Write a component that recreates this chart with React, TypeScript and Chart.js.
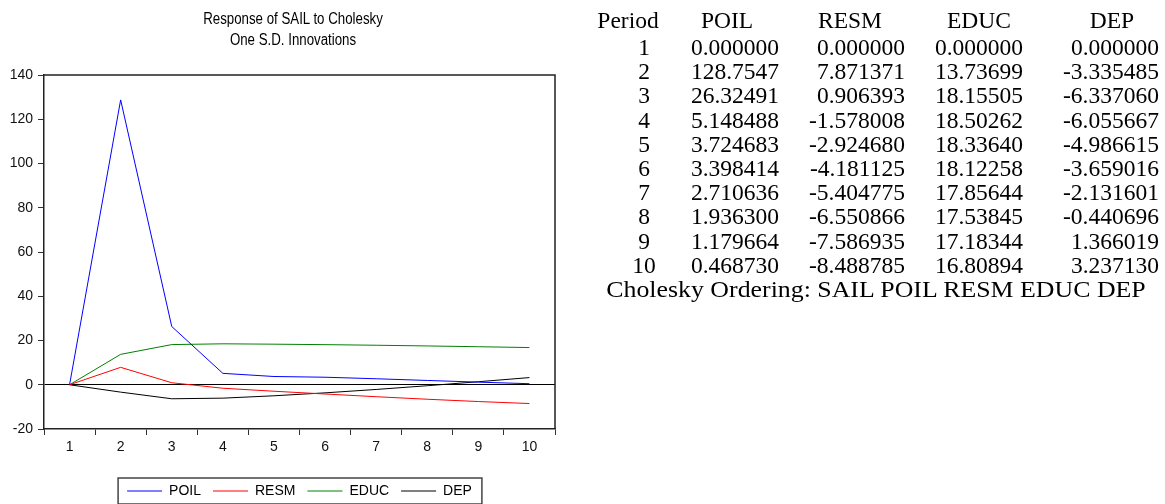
import React, { useEffect, useRef } from 'react';
import { Chart, registerables } from 'chart.js';

Chart.register(...registerables);

// ---------------- data ----------------
const periods = ['1', '2', '3', '4', '5', '6', '7', '8', '9', '10'];
const poil = [0.0, 128.7547, 26.32491, 5.148488, 3.724683, 3.398414, 2.710636, 1.9363, 1.179664, 0.46873];
const resm = [0.0, 7.871371, 0.906393, -1.578008, -2.92468, -4.181125, -5.404775, -6.550866, -7.586935, -8.488785];
const educ = [0.0, 13.73699, 18.15505, 18.50262, 18.3364, 18.12258, 17.85644, 17.53845, 17.18344, 16.80894];
const dep = [0.0, -3.335485, -6.33706, -6.055667, -4.986615, -3.659016, -2.131601, -0.440696, 1.366019, 3.23713];
const seriesNames = ['POIL', 'RESM', 'EDUC', 'DEP'];
const seriesValues = [poil, resm, educ, dep];
const seriesColors = ['#0000FF', '#FF0000', '#008000', '#000000'];
const yMin = -20;
const yMax = 140;
const yStep = 20;
const titleLines = ['Response of SAIL to Cholesky', 'One S.D. Innovations'];
const tableHeader = ['Period', 'POIL', 'RESM', 'EDUC', 'DEP'];
const footnote = 'Cholesky Ordering: SAIL POIL RESM EDUC DEP';

function fmt(v: number): string {
  const a = Math.abs(v);
  const intDigits = a < 1 ? 1 : Math.floor(Math.log10(a)) + 1;
  return v.toFixed(Math.max(0, 7 - intDigits));
}

const SANS = 'Liberation Sans, Arial, Helvetica, sans-serif';
const SERIF = '"Liberation Serif", "Times New Roman", Times, serif';

const framePlugin = {
  id: 'frameAndLegendBox',
  afterDraw(chart: any) {
    const { ctx, chartArea } = chart;
    ctx.save();
    ctx.strokeStyle = '#222';
    ctx.lineWidth = 1.5;
    ctx.beginPath();
    ctx.moveTo(chartArea.left, chartArea.top);
    ctx.lineTo(chartArea.right, chartArea.top);
    ctx.lineTo(chartArea.right, chartArea.bottom);
    ctx.stroke();
    const lg = chart.legend;
    if (lg && lg.legendHitBoxes && lg.legendHitBoxes.length) {
      const hb = lg.legendHitBoxes;
      const first = hb[0];
      const last = hb[hb.length - 1];
      const x0 = first.left - 9;
      const x1 = last.left + last.width + 10;
      const y0 = first.top - 6;
      const y1 = first.top + first.height + 6;
      ctx.strokeStyle = '#444';
      ctx.lineWidth = 1.5;
      ctx.strokeRect(x0, y0, x1 - x0, y1 - y0);
    }
    ctx.restore();
  },
};

function ChartPanel() {
  const ref = useRef<HTMLCanvasElement | null>(null);
  useEffect(() => {
    if (!ref.current) return;
    const chart = new Chart(ref.current, {
      type: 'line',
      data: {
        labels: periods,
        datasets: seriesNames.map((name, i) => ({
          label: name,
          data: seriesValues[i],
          borderColor: seriesColors[i],
          backgroundColor: seriesColors[i],
          borderWidth: 1,
          pointRadius: 0,
          tension: 0,
          fill: false,
        })),
      },
      options: {
        animation: false,
        responsive: false,
        devicePixelRatio: 1,
        layout: { padding: { left: 0, right: 5, top: 75, bottom: 0 } },
        plugins: {
          title: { display: false },
          legend: {
            display: true,
            position: 'bottom',
            fullSize: false,
            labels: {
              usePointStyle: true,
              pointStyle: 'line',
              pointStyleWidth: 35,
              padding: 12,
              color: '#000',
              font: { family: SANS, size: 14 },
            },
          },
          tooltip: { enabled: false },
        },
        scales: {
          x: {
            type: 'category',
            offset: true,
            grid: {
              offset: true,
              drawOnChartArea: false,
              drawTicks: true,
              tickLength: 6,
              tickColor: '#333',
            },
            border: { display: true, color: '#222', width: 1.5 },
            ticks: {
              color: '#111',
              font: { family: SANS, size: 14 },
              padding: 4,
              maxRotation: 0,
              autoSkip: false,
            },
            afterFit: (s: any) => {
              s.height = 43;
            },
          },
          y: {
            min: yMin,
            max: yMax,
            grid: {
              drawOnChartArea: true,
              drawTicks: true,
              tickLength: 6,
              tickColor: '#333',
              color: (c: any) => (c.tick && c.tick.value === 0 ? '#000' : 'rgba(0,0,0,0)'),
            },
            border: { display: true, color: '#222', width: 1.5 },
            ticks: {
              stepSize: yStep,
              color: '#111',
              font: { family: SANS, size: 14 },
              padding: 5,
            },
            afterFit: (s: any) => {
              s.width = 44;
            },
          },
        },
      },
      plugins: [framePlugin],
    } as any);
    return () => chart.destroy();
  }, []);
  return (
    <canvas
      ref={ref}
      width={560}
      height={508}
      style={{ position: 'absolute', left: 0, top: 0, width: 560, height: 508 }}
    />
  );
}

function ChartTitle() {
  return (
    <>
      {titleLines.map((t, i) => (
        <div
          key={'t' + i}
          style={{
            position: 'absolute',
            left: 293 - 200,
            width: 400,
            top: 7.5 + i * 21,
            height: 21,
            lineHeight: '21px',
            textAlign: 'center',
            fontFamily: SANS,
            fontSize: 16,
            whiteSpace: 'nowrap',
            transform: 'scaleX(0.83)',
            transformOrigin: '50% 50%',
          }}
        >
          {t}
        </div>
      ))}
    </>
  );
}

// table geometry
const rowTop0 = 20; // header centre
const rowFirst = 47; // row 1 centre
const rowStep = 24.2;
const lineH = 24;
const periodCenter = 644;
const headerCenters = [628, 727, 850, 979, 1112];
const valueRights = [779, 905, 1023, 1159];
const footCenter = 876;

function cellStyle(centerY: number): React.CSSProperties {
  return {
    position: 'absolute',
    top: centerY - lineH / 2,
    height: lineH,
    lineHeight: lineH + 'px',
    whiteSpace: 'nowrap',
  };
}

function Table() {
  const cells: React.ReactNode[] = [];
  tableHeader.forEach((h, i) => {
    cells.push(
      <div key={'h' + i} style={{ ...cellStyle(rowTop0), left: headerCenters[i] - 100, width: 200, textAlign: 'center' }}>
        {h}
      </div>
    );
  });
  periods.forEach((p, r) => {
    const cy = rowFirst + r * rowStep;
    cells.push(
      <div key={'p' + r} style={{ ...cellStyle(cy), left: periodCenter - 50, width: 100, textAlign: 'center' }}>
        {p}
      </div>
    );
    seriesValues.forEach((vals, c) => {
      cells.push(
        <div key={'v' + r + '_' + c} style={{ ...cellStyle(cy), left: valueRights[c] - 200, width: 200, textAlign: 'right' }}>
          {fmt(vals[r])}
        </div>
      );
    });
  });
  const footY = rowFirst + periods.length * rowStep;
  cells.push(
    <div
      key="foot"
      style={{
        ...cellStyle(footY),
        left: footCenter - 300,
        width: 600,
        textAlign: 'center',
        transform: 'scaleX(1.1)',
        transformOrigin: '50% 50%',
      }}
    >
      {footnote}
    </div>
  );
  return <>{cells}</>;
}

export default function App() {
  return (
    <div
      style={{
        position: 'fixed',
        left: 0,
        top: 0,
        width: 1165,
        height: 504,
        overflow: 'hidden',
        background: '#fff',
        fontFamily: SERIF,
        fontSize: 23.5,
        color: '#000',
      }}
    >
      <ChartPanel />
      <ChartTitle />
      <Table />
    </div>
  );
}
